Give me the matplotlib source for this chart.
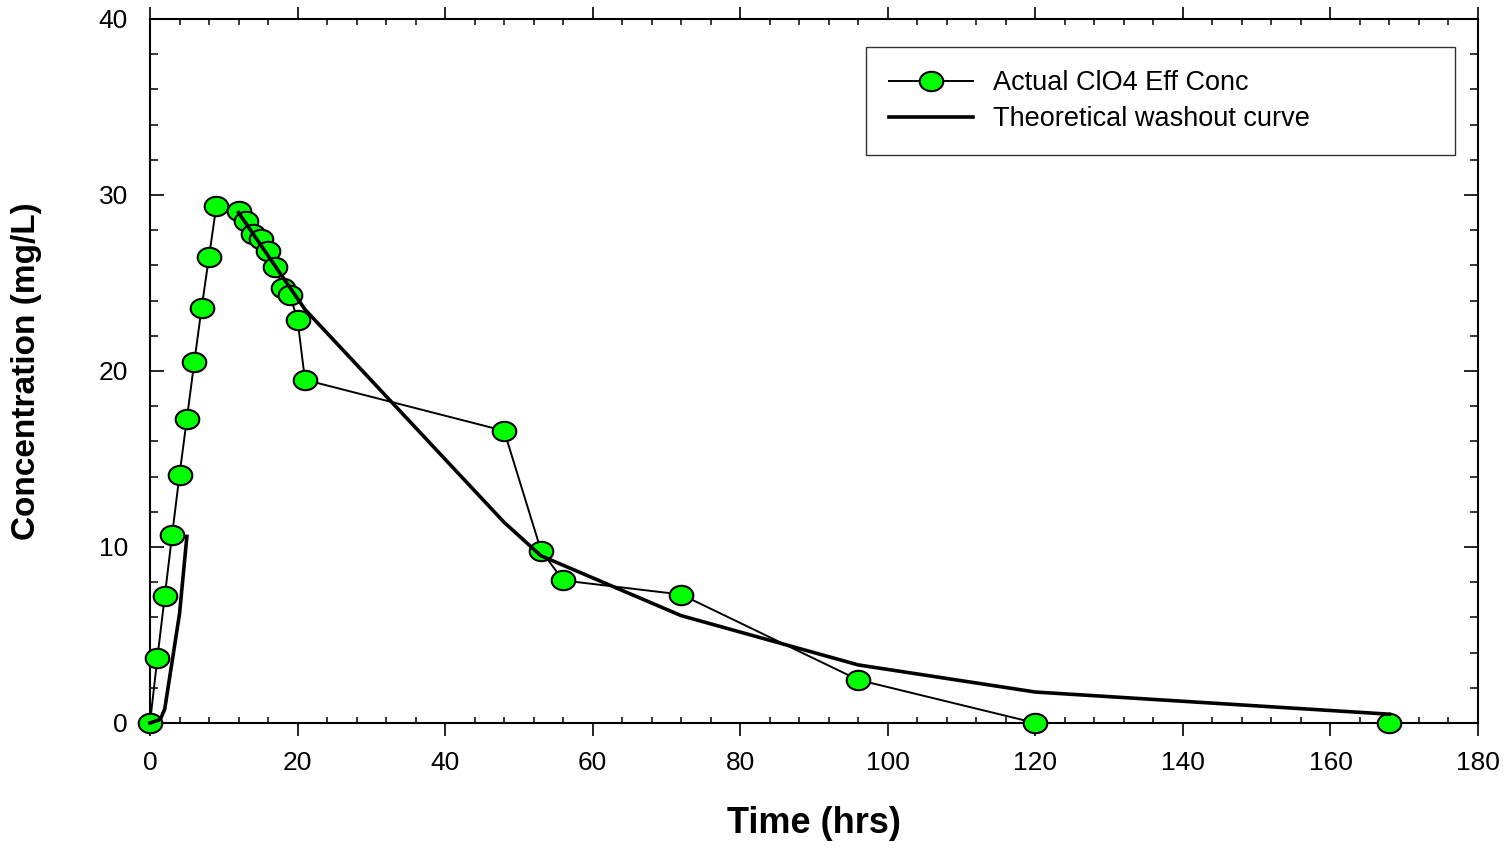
import numpy as np
import matplotlib
matplotlib.use("Agg")
import matplotlib.pyplot as plt
from matplotlib.path import Path
from matplotlib.ticker import MultipleLocator

plt.rcParams['font.family'] = ['Liberation Sans', 'DejaVu Sans']

# measured effluent perchlorate
time_actual = [0, 1, 2, 3, 4, 5, 6, 7, 8, 9, 12, 13, 14, 15, 16, 17, 18, 19, 20, 21,
               48, 53, 56, 72, 96, 120, 168]
conc_actual = [0, 3.7, 7.2, 10.7, 14.1, 17.3, 20.5, 23.6, 26.5, 29.4,
               29.1, 28.5, 27.8, 27.5, 26.8, 25.9, 24.7, 24.3, 22.9, 19.5,
               16.6, 9.8, 8.1, 7.3, 2.45, 0, 0]

# theoretical washout curve (two pieces, gap in between)
time_theory = [0, 1.4, 2, 4, 5, np.nan, 12, 21, 48, 53, 72, 96, 120, 168]
conc_theory = [0, 0.2, 0.8, 6.2, 10.6, np.nan, 29.0, 23.5, 11.4, 9.5, 6.1, 3.3, 1.76, 0.5]

# slightly wide ellipse marker
t = np.linspace(0, 2 * np.pi, 60)
ellipse = Path(np.column_stack([1.22 * np.cos(t), np.sin(t)]))

fig = plt.figure(figsize=(15.1, 8.48), dpi=100)
ax = fig.add_axes([150 / 1510, 1 - 723 / 848, 1328 / 1510, 704 / 848])

ax.plot(time_actual, conc_actual, color='black', lw=1.4, marker=ellipse,
        markersize=17, markerfacecolor='#00ff00', markeredgecolor='black',
        markeredgewidth=1.5, label='Actual ClO4 Eff Conc', zorder=3, clip_on=False)
ax.plot(time_theory, conc_theory, color='black', lw=2.6,
        label='Theoretical washout curve', zorder=4, clip_on=False)

ax.set_xlim(0, 180)
ax.set_ylim(0, 40)
ax.xaxis.set_major_locator(MultipleLocator(20))
ax.xaxis.set_minor_locator(MultipleLocator(4))
ax.yaxis.set_major_locator(MultipleLocator(10))
ax.yaxis.set_minor_locator(MultipleLocator(2))

for s in ax.spines.values():
    s.set_linewidth(1.5)

ax.tick_params(axis='x', which='major', direction='out', length=9, width=1.2,
               top=True, labelsize=19, pad=11)
ax.tick_params(axis='x', which='minor', direction='in', length=4.5, width=1.1, top=True)
ax.tick_params(axis='y', which='major', direction='in', length=10, width=1.2,
               right=True, labelsize=19, pad=16)
ax.tick_params(axis='y', which='minor', direction='in', length=5.5, width=1.1, right=True)

ax.set_xlabel('Time (hrs)', fontsize=26, fontweight='bold')
ax.set_ylabel('Concentration (mg/L)', fontsize=24, fontweight='bold')
ax.xaxis.set_label_coords(0.5, (723 - 806) / 704)
ax.yaxis.set_label_coords((42 - 150) / 1328, 0.5)

leg = ax.legend(loc='upper left', bbox_to_anchor=(0.539, 0.81, 0.4435, 0.15),
                mode='expand', fontsize=19.5, frameon=True, fancybox=False,
                edgecolor='black', handlelength=3.1, handletextpad=0.75,
                labelspacing=0.38, borderpad=0.85, borderaxespad=0)
leg.get_frame().set_linewidth(1.0)

fig.savefig('out.png', dpi=100)
